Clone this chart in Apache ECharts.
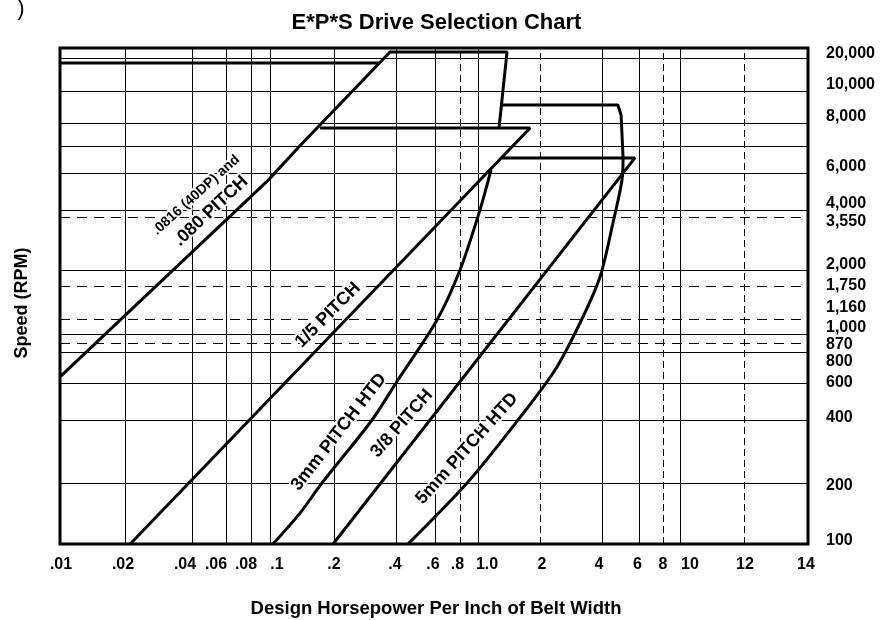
<!DOCTYPE html>
<html><head><meta charset="utf-8">
<script src="https://cdn.jsdelivr.net/npm/echarts@6/dist/echarts.min.js"></script>
<style>html,body{margin:0;padding:0;background:#fff}#c{width:883px;height:620px}</style>
</head><body><div id="c"></div>
<script>
// ---------- tick values and labels ----------
const xTickValues = [0.01,0.02,0.04,0.06,0.08,0.1,0.2,0.4,0.6,0.8,1,2,4,6,8,10,12,14];
const xTickLabels = ['.01','.02','.04','.06','.08','.1','.2','.4','.6','.8','1.0','2','4','6','8','10','12','14'];
const yTickValues = [100,200,400,600,800,870,1000,1160,1750,2000,3550,4000,6000,7000,8000,10000,20000];
const yTickLabels = ['100','200','400','600','800','870','1,000','1,160','1,750','2,000','3,550','4,000','6,000','','8,000','10,000','20,000'];

// ---------- series data: [horsepower per inch, rpm] ----------
const pitch080Line = [[0.01,635],[0.098,5550],[0.138,7000],[0.374,22700],[1.383,22700],[1.265,7770]];
const pitch080Cap  = [[0.01,18000],[0.333,18000]];
const pitch15      = [[0.0211,100],[1.79,7770],[0.172,7770]];
const pitch38      = [[0.198,100],[5.74,6540],[1.308,6540]];
const htd3mm       = [[0.1033,100],[0.1384,142],[0.1756,200],[0.306,400],[0.408,617],[0.614,1149],[0.8,2000],[1.022,4000],[1.157,6104]];
const htd5mm       = [[0.453,100],[0.873,200],[1.564,400],[2.366,677],[3.128,1115],[3.91,1887],[4.51,3328],[4.98,5556],[5.04,6540]];
const htd5mmCap    = [[5.04,6540],[4.93,8460],[4.76,9070],[1.31,9070]];

// ---------- curve labels ----------
const labelTexts   = ['.0816 (40DP) and', '.080 PITCH', '1/5 PITCH', '3mm PITCH HTD', '3/8 PITCH', '5mm PITCH HTD'];
const labelAnchors = [[0.042,4713],[0.0502,3933],[0.1874,1219],[0.2110,350],[0.4250,385],[0.872,292]];

// ---------- layout / style (not data) ----------
// The printed chart uses hand-spaced, non-uniform scales: position of each tick along its axis.
const X_POS = [0,65,132,166,191,210,274,336,375,400,418,480,542,579,603,620,684,748];
const Y_POS = [0,61,124,161,192,201,210,225,258,274,327,334,371,398,421,453,486];
const X_MAX = 748, Y_MAX = 496;
const xDashed = [0.8,2,8,12];
const yDashed = [870,1160,1750,3550];
const xLabelShift = [1,-2,-7,-10,-5,7,0,-1,-2,-2.5,9,2,-3,-1.5,0,10,1,-2];
const yLabelShift = [-3,2.5,-2,0,10,2,-6,-11,0,-5,5,-6.5,-6,0,-6,-6,-4];
const labelAngles = [42,43,45,52,48.5,48];
const FONT = '"Liberation Sans", Arial, Helvetica, sans-serif';
const labelFonts  = ['bold 14px ' + FONT, 'bold 18px ' + FONT, 'bold 18px ' + FONT,
  'bold 18px ' + FONT, 'bold 18px ' + FONT, 'bold 18px ' + FONT];

function mapScale(values, pos, v) {
  let i = 0;
  while (i < values.length - 2 && v > values[i+1]) i++;
  const t = Math.log(v / values[i]) / Math.log(values[i+1] / values[i]);
  return pos[i] + t * (pos[i+1] - pos[i]);
}
const sx = v => mapScale(xTickValues, X_POS, v);
const sy = v => mapScale(yTickValues, Y_POS, v);
const toXY = arr => arr.map(d => [sx(d[0]), sy(d[1])]);

function findIdx(pos, v) { for (let i = 0; i < pos.length; i++) if (Math.abs(pos[i] - v) < 1e-6) return i; return -1; }

const xRich = {}, yRich = {};
xLabelShift.forEach((d, i) => { xRich['x' + i] = { padding: [0, d < 0 ? -2*d : 0, 0, d > 0 ? 2*d : 0], fontSize: 16, fontWeight: 'bold', fontFamily: FONT, color: '#000' }; });
yLabelShift.forEach((d, i) => { yRich['y' + i] = { padding: [d > 0 ? 2*d : 0, 0, d < 0 ? -2*d : 0, 0], fontSize: 16, fontWeight: 'bold', fontFamily: FONT, color: '#000' }; });

const gridLines = [];
xTickValues.forEach((v, i) => {
  if (i === 0 || i === xTickValues.length - 1) return;
  gridLines.push({ xAxis: X_POS[i], lineStyle: { color: '#000', width: 1, type: xDashed.includes(v) ? [7,4] : 'solid' } });
});
yTickValues.forEach((v, i) => {
  if (i === 0) return;
  gridLines.push({ yAxis: Y_POS[i], lineStyle: { color: '#000', width: 1, type: yDashed.includes(v) ? [10,7] : 'solid' } });
});

function curve(name, data, smooth) {
  return { name, type: 'line', data: toXY(data), showSymbol: false, smooth: smooth || false, z: 3,
    lineStyle: { color: '#000', width: 3 }, silent: true };
}

const chart = echarts.init(document.getElementById('c'), null, { renderer: 'canvas' });
chart.setOption({
  animation: false,
  backgroundColor: '#fff',
  grid: { left: 60, right: 75, top: 48, bottom: 76, show: true, borderColor: '#000', borderWidth: 3 },
  xAxis: { type: 'value', min: 0, max: X_MAX,
    axisLine: { show: false }, axisTick: { show: false }, splitLine: { show: false },
    axisLabel: { customValues: X_POS, margin: 13, rich: xRich,
      formatter: v => { const i = findIdx(X_POS, v); return i < 0 ? '' : '{x' + i + '|' + xTickLabels[i] + '}'; } } },
  yAxis: { type: 'value', position: 'right', min: 0, max: Y_MAX,
    axisLine: { show: false }, axisTick: { show: false }, splitLine: { show: false },
    axisLabel: { customValues: Y_POS, margin: 18, rich: yRich,
      formatter: v => { const i = findIdx(Y_POS, v); return (i < 0 || !yTickLabels[i]) ? '' : '{y' + i + '|' + yTickLabels[i] + '}'; } } },
  series: [
    { type: 'line', data: [], z: 1, silent: true,
      markLine: { z: 1, silent: true, symbol: ['none','none'], label: { show: false }, animation: false, data: gridLines } },
    curve('.080 pitch', pitch080Line),
    curve('.080 cap', pitch080Cap),
    curve('1/5 pitch', pitch15),
    curve('3/8 pitch', pitch38),
    curve('3mm HTD', htd3mm, 0.3),
    curve('5mm HTD', htd5mm, 0.3),
    curve('5mm HTD cap', htd5mmCap)
  ]
});

const graphics = [
  { type: 'text', x: 436.5, y: 23, style: { text: 'E*P*S Drive Selection Chart', font: 'bold 22px ' + FONT, fill: '#000', align: 'center', verticalAlign: 'middle' } },
  { type: 'text', x: 436, y: 609, style: { text: 'Design Horsepower Per Inch of Belt Width', font: 'bold 18.5px ' + FONT, fill: '#000', align: 'center', verticalAlign: 'middle' } },
  { type: 'text', x: 22, y: 303, rotation: Math.PI / 2, style: { text: 'Speed (RPM)', font: 'bold 18px ' + FONT, fill: '#000', align: 'center', verticalAlign: 'middle' } },
  { type: 'text', x: 21, y: 9, style: { text: ')', font: 'normal 22px ' + FONT, fill: '#000', align: 'center', verticalAlign: 'middle' } }
];
labelTexts.forEach((t, i) => {
  const p = chart.convertToPixel({ gridIndex: 0 }, [sx(labelAnchors[i][0]), sy(labelAnchors[i][1])]);
  graphics.push({ type: 'text', x: p[0], y: p[1], rotation: labelAngles[i] * Math.PI / 180, z: 2,
    style: { text: t, font: labelFonts[i], fill: '#000', stroke: '#fff', lineWidth: 4,
      align: 'center', verticalAlign: 'middle' } });
});
chart.setOption({ graphic: graphics });
</script>
</body></html>
